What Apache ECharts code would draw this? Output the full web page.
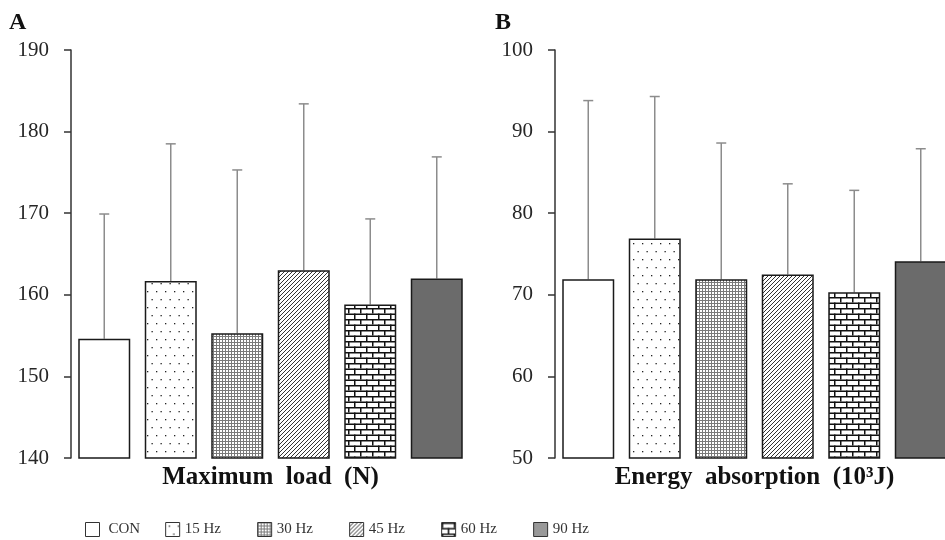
<!DOCTYPE html>
<html>
<head>
<meta charset="utf-8">
<script src="https://cdn.jsdelivr.net/npm/echarts@6/dist/echarts.min.js"></script>
<style>html,body{margin:0;padding:0;background:#fff}#c{width:945px;height:540px}</style>
</head>
<body>
<div id="c"></div>
<script>
// ---- data ----
const categories = ['CON', '15 Hz', '30 Hz', '45 Hz', '60 Hz', '90 Hz'];
const loadMean = [154.6, 161.7, 155.3, 163.0, 158.8, 162.0];
const loadSD = [15.3, 16.8, 20.0, 20.4, 10.5, 14.9];
const energyMean = [71.9, 76.9, 71.9, 72.5, 70.3, 74.1];
const energySD = [21.9, 17.4, 16.7, 11.1, 12.5, 13.8];
const loadTicks = [140, 150, 160, 170, 180, 190];
const energyTicks = [50, 60, 70, 80, 90, 100];

// ---- patterns ----
function mk(w, h, draw) {
  const c = document.createElement('canvas');
  c.width = w; c.height = h;
  const g = c.getContext('2d');
  g.fillStyle = '#fff'; g.fillRect(0, 0, w, h);
  draw(g);
  return { image: c, repeat: 'repeat' };
}
const patSparse = mk(18, 16, g => {
  g.fillStyle = '#222';
  g.fillRect(3, 3, 1.3, 1.3); g.fillRect(12, 3, 1.3, 1.3);
  g.fillRect(7.5, 11, 1.3, 1.3); g.fillRect(16.5, 11, 1.3, 1.3);
});
const patDense = mk(3, 3, g => {
  g.fillStyle = '#7a7a7a'; g.fillRect(0, 0, 3, 3);
  g.fillStyle = '#fff'; g.fillRect(1, 1, 2, 2);
});
const patDiag = mk(4, 4, g => {
  g.strokeStyle = '#333'; g.lineWidth = 1;
  g.beginPath();
  g.moveTo(0, 4); g.lineTo(4, 0);
  g.moveTo(-1, 1); g.lineTo(1, -1);
  g.moveTo(3, 5); g.lineTo(5, 3);
  g.stroke();
});
const patBrick = mk(12, 11, g => {
  g.fillStyle = '#111';
  g.fillRect(0, 0, 12, 1.5);
  g.fillRect(0, 5.5, 12, 1.5);
  g.fillRect(0, 0, 1.5, 5.5);
  g.fillRect(6, 5.5, 1.5, 5.5);
});
const fills = ['#ffffff', patSparse, patDense, patDiag, patBrick, '#6b6b6b'];

const serif = 'Liberation Serif';

function barSeries(means, axisIdx) {
  return categories.map((name, i) => ({
    name: name,
    type: 'bar',
    xAxisIndex: axisIdx, yAxisIndex: axisIdx,
    barWidth: 52,
    barGap: '-100%',
    data: means.map((v, j) => (j === i ? v : '-')),
    itemStyle: { color: fills[i], borderColor: '#1a1a1a', borderWidth: 1.5 },
    emphasis: { disabled: true },
    z: 3
  }));
}
function errSeries(means, sds, axisIdx) {
  return {
    type: 'custom',
    name: 'err' + axisIdx,
    xAxisIndex: axisIdx, yAxisIndex: axisIdx,
    data: means.map((v, j) => [j, v, sds[j]]),
    encode: { x: 0, y: 1 },
    z: 2,
    renderItem: function (params, api) {
      const x = api.value(0), m = api.value(1), s = api.value(2);
      const p0 = api.coord([x, m]);
      const p1 = api.coord([x, m + s]);
      const st = { stroke: '#8c8c8c', lineWidth: 1.5 };
      return {
        type: 'group',
        children: [
          { type: 'line', shape: { x1: p0[0], y1: p0[1], x2: p1[0], y2: p1[1] }, style: st },
          { type: 'line', shape: { x1: p1[0] - 5, y1: p1[1], x2: p1[0] + 5, y2: p1[1] }, style: st }
        ]
      };
    }
  };
}
function yAxis(ticks, idx) {
  return {
    type: 'value', gridIndex: idx,
    min: ticks[0], max: ticks[ticks.length - 1], interval: ticks[1] - ticks[0],
    axisLine: { show: true, lineStyle: { color: '#333', width: 1.5 } },
    axisTick: { show: true, inside: false, length: 7, lineStyle: { color: '#333', width: 1.5 } },
    axisLabel: { fontFamily: serif, fontSize: 21, color: '#262626', margin: 22 },
    splitLine: { show: false }
  };
}
function xAxis(name, idx) {
  return {
    type: 'category', gridIndex: idx, data: categories,
    axisLine: { show: false }, axisTick: { show: false }, axisLabel: { show: false },
    name: name, nameLocation: 'middle', nameGap: 7,
    nameTextStyle: { fontFamily: serif, fontSize: 25, fontWeight: 'bold', color: '#111' }
  };
}

const legendData = categories.map((n, i) => {
  const d = { name: n, itemStyle: { borderColor: '#333', borderWidth: 1 } };
  if (i === 5) d.itemStyle.color = '#999';
  return d;
});

const chart = echarts.init(document.getElementById('c'), null, { renderer: 'canvas' });
chart.setOption({
  animation: false,
  backgroundColor: '#fff',
  title: [
    { text: 'A', left: 4, top: 6, textStyle: { fontFamily: serif, fontSize: 24, fontWeight: 'bold', color: '#111' } },
    { text: 'B', left: 490, top: 6, textStyle: { fontFamily: serif, fontSize: 24, fontWeight: 'bold', color: '#111' } }
  ],
  legend: {
    data: legendData,
    left: 80, top: 517,
    itemWidth: 14, itemHeight: 14, itemGap: 25,
    icon: 'rect',
    selectedMode: false,
    formatter: function (n) { return n === 'CON' ? '{p|\u00a0}{t|' + n + '}' : '{t|' + n + '}\u00a0\u00a0\u00a0'; },
    textStyle: {
      fontFamily: serif, fontSize: 15, color: '#333',
      rich: {
        t: { fontFamily: serif, fontSize: 15, color: '#333' },
        p: { width: 4, fontSize: 15 }
      }
    }
  },
  grid: [
    { left: 71, top: 50, width: 399, height: 408, outerBoundsMode: 'none' },
    { left: 555, top: 50, width: 399, height: 408, outerBoundsMode: 'none' }
  ],
  xAxis: [xAxis('Maximum  load  (N)', 0), xAxis('Energy  absorption  (10³J)', 1)],
  yAxis: [yAxis(loadTicks, 0), yAxis(energyTicks, 1)],
  series: [
    ...barSeries(loadMean, 0),
    errSeries(loadMean, loadSD, 0),
    ...barSeries(energyMean, 1),
    errSeries(energyMean, energySD, 1)
  ]
});
</script>
</body>
</html>
